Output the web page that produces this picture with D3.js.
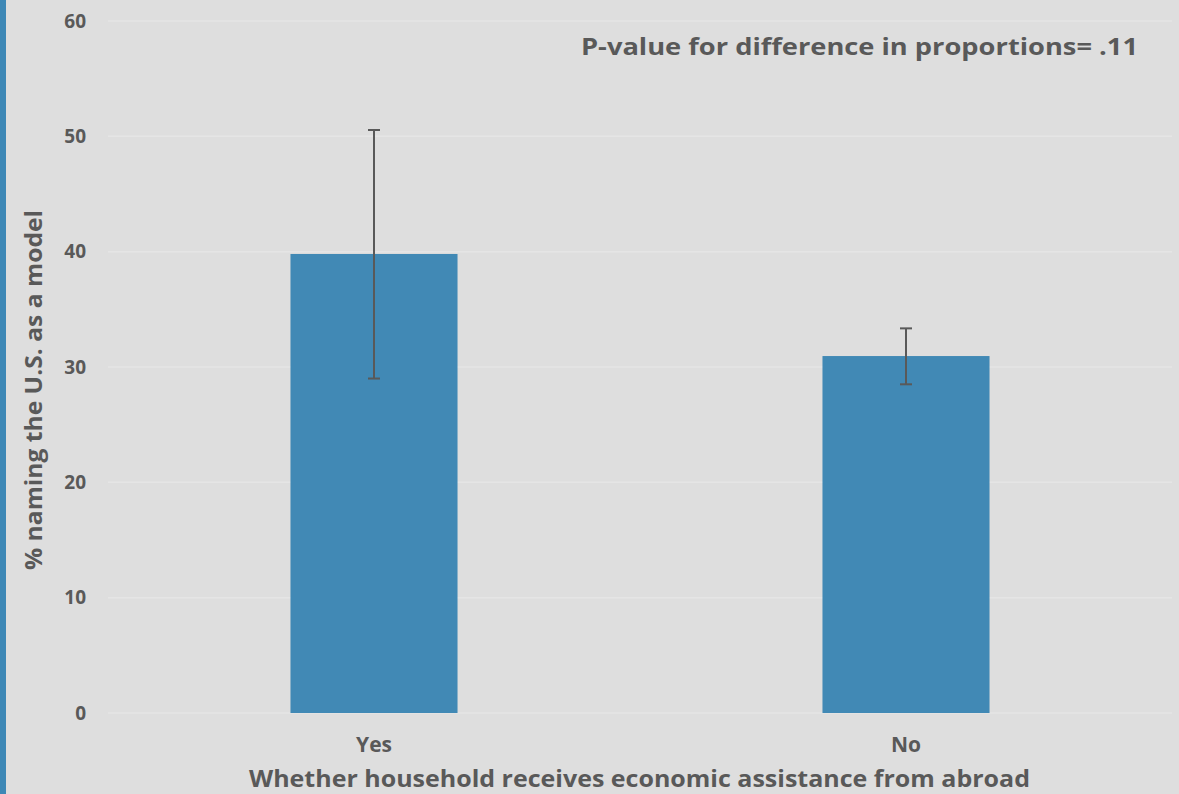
<!DOCTYPE html>
<html><head><meta charset="utf-8">
<script src="https://cdn.jsdelivr.net/npm/d3@7"></script>
<style>
html,body{margin:0;padding:0;background:#dedede;}
text{font-family:"Open Sans",Lato,sans-serif;font-weight:bold;fill:#595959;}
</style></head>
<body>
<svg id="chart" width="1179" height="794"></svg>
<script>
const categories = ["Yes", "No"];
const values = [39.8, 30.95];
const errLow = [29.0, 28.5];
const errHigh = [50.55, 33.35];
const yTicks = [0, 10, 20, 30, 40, 50, 60];

const svg = d3.select("#chart");
const W = 1179, H = 794;
svg.append("rect").attr("width", W).attr("height", H).attr("fill", "#dedede");
svg.append("rect").attr("x", 0).attr("y", 0).attr("width", 6).attr("height", H).attr("fill", "#3e88b6");

const x = d3.scaleBand().domain(categories).range([108, 1172]).paddingInner(0.686).paddingOuter(0.343);
const y = d3.scaleLinear().domain([0, 60]).range([713, 21]);

// gridlines
svg.append("g").selectAll("line").data(yTicks).join("line")
  .attr("x1", 108).attr("x2", 1172)
  .attr("y1", d => y(d)).attr("y2", d => y(d))
  .attr("stroke", "#e5e5e5").attr("stroke-width", 1.5);

// y axis labels
const yAxis = svg.append("g").attr("transform", "translate(86,0)")
  .call(d3.axisLeft(y).tickValues(yTicks).tickSize(0).tickPadding(0));
yAxis.select(".domain").remove();
yAxis.selectAll("text").attr("font-size", 19).attr("fill", "#595959")
  .style("font-family", "'Open Sans', sans-serif").style("font-weight", "bold");

// bars
svg.append("g").selectAll("rect").data(categories).join("rect")
  .attr("x", d => x(d)).attr("width", x.bandwidth())
  .attr("y", (d, i) => y(values[i])).attr("height", (d, i) => y(0) - y(values[i]))
  .attr("fill", "#4189b5");

// error bars
const eg = svg.append("g").attr("stroke", "#595959").attr("stroke-width", 2);
categories.forEach((c, i) => {
  const cx = x(c) + x.bandwidth() / 2;
  eg.append("line").attr("x1", cx).attr("x2", cx).attr("y1", y(errHigh[i])).attr("y2", y(errLow[i]));
  eg.append("line").attr("x1", cx - 6).attr("x2", cx + 6).attr("y1", y(errHigh[i])).attr("y2", y(errHigh[i]));
  eg.append("line").attr("x1", cx - 6).attr("x2", cx + 6).attr("y1", y(errLow[i])).attr("y2", y(errLow[i]));
});

// x axis labels
const xAxis = svg.append("g").attr("transform", "translate(0,752)")
  .call(d3.axisBottom(x).tickSize(0).tickPadding(0));
xAxis.select(".domain").remove();
xAxis.selectAll("text").attr("font-size", 21).attr("fill", "#595959").attr("dy", 0)
  .style("font-family", "'Open Sans', sans-serif").style("font-weight", "bold");

// axis titles
svg.append("text").attr("x", 639.5).attr("y", 787).attr("text-anchor", "middle")
  .attr("font-size", 23).attr("textLength", 781).attr("lengthAdjust", "spacingAndGlyphs")
  .text("Whether household receives economic assistance from abroad");
svg.append("text").attr("transform", "translate(42,390) rotate(-90)").attr("text-anchor", "middle")
  .attr("font-size", 23).attr("textLength", 360).attr("lengthAdjust", "spacingAndGlyphs")
  .text("% naming the U.S. as a model");

// annotation
svg.append("text").attr("x", 1138).attr("y", 55).attr("text-anchor", "end")
  .attr("font-size", 24).attr("textLength", 557).attr("lengthAdjust", "spacingAndGlyphs")
  .text("P-value for difference in proportions= .11");
</script>
</body></html>
